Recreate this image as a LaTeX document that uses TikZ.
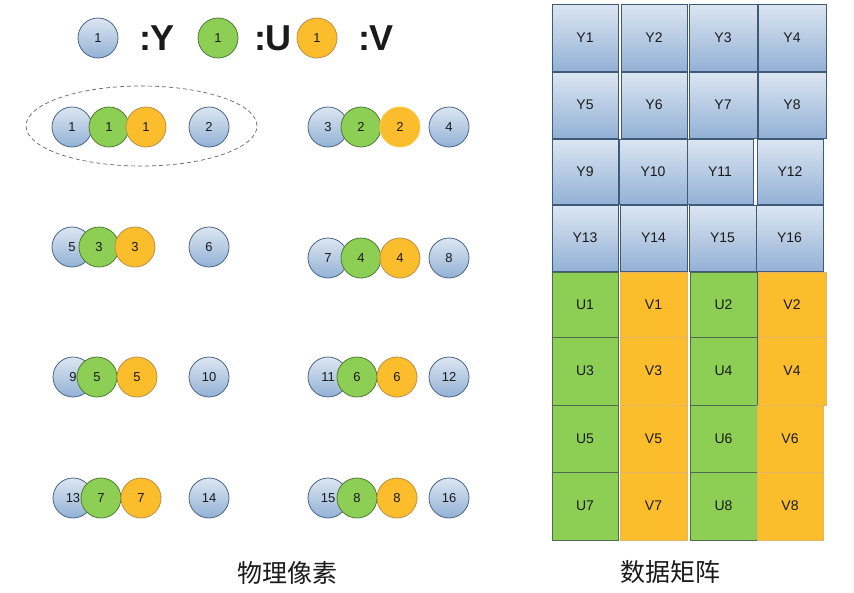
\documentclass[tikz,border=0pt]{standalone}
\usepackage{fontspec}
\setmainfont{Liberation Sans}
\newfontfamily\cjk{Noto Sans CJK SC}
\usetikzlibrary{shapes.geometric}
\definecolor{ytop}{HTML}{DCE6F2}
\definecolor{ybot}{HTML}{93B1D5}
\definecolor{yedge}{HTML}{4A6684}
\definecolor{ufill}{HTML}{8DCF55}
\definecolor{uedge}{HTML}{4F7A35}
\definecolor{vfill}{HTML}{FBBD2B}
\definecolor{vedge}{HTML}{B8904A}
\definecolor{cedge}{HTML}{3E5A78}
\definecolor{ucedge}{HTML}{4E6A50}
\definecolor{vcedge}{HTML}{E2B566}
\definecolor{txt}{HTML}{1A1A1A}
\tikzset{
  circ/.style={circle, minimum size=40pt, inner sep=0pt, line width=0.8pt, font=\fontsize{13}{13}\selectfont, text=txt},
  ycirc/.style={circ, draw=yedge, top color=ytop, bottom color=ybot},
  ucirc/.style={circ, draw=uedge, fill=ufill},
  vcirc/.style={circ, draw=vedge, fill=vfill},
  vsoft/.style={circ, draw=vfill!85!white, fill=vfill},
  cellbase/.style={rectangle, inner sep=0pt, line width=0.8pt, font=\fontsize{14}{14}\selectfont, text=txt},
  ycell/.style={cellbase, draw=cedge, top color=ytop, bottom color=ybot},
  ucell/.style={cellbase, draw=ucedge, fill=ufill},
  vcell/.style={cellbase, draw=vcedge, fill=vfill},
  legend/.style={font=\bfseries\fontsize{36}{36}\selectfont, text=txt, inner sep=0pt},
  caption/.style={font=\cjk\fontsize{25}{25}\selectfont, text=txt, inner sep=0pt},
  group/.style={ellipse, draw=gray!80!black, dash pattern=on 4pt off 3pt, line width=0.7pt, inner sep=0pt}
}
\newcommand\mcell[7]{\node[#6, minimum width={#4pt-#2pt}, minimum height={#5pt-#3pt}] (#1) at ({(#2+#4)/2},{(#3+#5)/2}) {#7};}
\begin{document}
\begin{tikzpicture}[x=1pt,y=-1pt]
\useasboundingbox[fill=white] (0,0) rectangle (854,592);

% legend
\node[ycirc] (ly) at (98,38) {1};
\node[legend] (lyt) at (157,38) {:Y};
\node[ucirc] (lu) at (218,38) {1};
\node[legend] (lut) at (273,38) {:U};
\node[vcirc] (lv) at (317,38) {1};
\node[legend] (lvt) at (376,38) {:V};

% group ellipse
\node[group, minimum width=231pt, minimum height=80pt] (sel) at (141.5,126) {};

% row 1
\node[ycirc] (p1) at (72,127) {1};
\node[ucirc] (pu1) at (109,127) {1};
\node[vcirc] (pv1) at (146,127) {1};
\node[ycirc] (p2) at (209,127) {2};
\node[ycirc] (p3) at (328,127) {3};
\node[ucirc] (pu2) at (361,127) {2};
\node[vsoft] (pv2) at (400,127) {2};
\node[ycirc] (p4) at (449,127) {4};

% row 2
\node[ycirc] (p5) at (72,247) {5};
\node[ucirc] (pu3) at (99,247) {3};
\node[vcirc] (pv3) at (135,247) {3};
\node[ycirc] (p6) at (209,247) {6};
\node[ycirc] (p7) at (328,258) {7};
\node[ucirc] (pu4) at (361,258) {4};
\node[vcirc] (pv4) at (400,258) {4};
\node[ycirc] (p8) at (449,258) {8};

% row 3
\node[ycirc] (p9) at (73,377) {9};
\node[ucirc] (pu5) at (97,377) {5};
\node[vcirc] (pv5) at (137,377) {5};
\node[ycirc] (p10) at (209,377) {10};
\node[ycirc] (p11) at (328,377) {11};
\node[ucirc] (pu6) at (357,377) {6};
\node[vcirc] (pv6) at (397,377) {6};
\node[ycirc] (p12) at (449,377) {12};

% row 4
\node[ycirc] (p13) at (73,498) {13};
\node[ucirc] (pu7) at (101,498) {7};
\node[vcirc] (pv7) at (141,498) {7};
\node[ycirc] (p14) at (209,498) {14};
\node[ycirc] (p15) at (328,498) {15};
\node[ucirc] (pu8) at (357,498) {8};
\node[vcirc] (pv8) at (397,498) {8};
\node[ycirc] (p16) at (449,498) {16};

% data matrix: Y plane
\mcell{my1}{552}{4}{618}{71}{ycell}{Y1}
\mcell{my2}{621}{4}{687}{71}{ycell}{Y2}
\mcell{my3}{689}{4}{757}{71}{ycell}{Y3}
\mcell{my4}{758}{4}{826}{71}{ycell}{Y4}
\mcell{my5}{552}{72}{618}{138}{ycell}{Y5}
\mcell{my6}{621}{72}{687}{138}{ycell}{Y6}
\mcell{my7}{689}{72}{757}{138}{ycell}{Y7}
\mcell{my8}{758}{72}{826}{138}{ycell}{Y8}
\mcell{my9}{552}{139}{618}{204}{ycell}{Y9}
\mcell{my10}{619}{139}{687}{204}{ycell}{Y10}
\mcell{my11}{687}{139}{753}{204}{ycell}{Y11}
\mcell{my12}{757}{139}{823}{204}{ycell}{Y12}
\mcell{my13}{552}{205}{618}{271}{ycell}{Y13}
\mcell{my14}{620}{205}{687}{271}{ycell}{Y14}
\mcell{my15}{689}{205}{756}{271}{ycell}{Y15}
\mcell{my16}{756}{205}{823}{271}{ycell}{Y16}

% data matrix: U/V plane
\mcell{mu1}{552}{272}{618}{337}{ucell}{U1}
\mcell{mv1}{620}{272}{687}{337}{vcell}{V1}
\mcell{mu2}{690}{272}{757}{337}{ucell}{U2}
\mcell{mv2}{758}{272}{826}{337}{vcell}{V2}
\mcell{mu3}{552}{337}{618}{405}{ucell}{U3}
\mcell{mv3}{620}{337}{687}{405}{vcell}{V3}
\mcell{mu4}{690}{337}{757}{405}{ucell}{U4}
\mcell{mv4}{758}{337}{826}{405}{vcell}{V4}
\mcell{mu5}{552}{405}{618}{472}{ucell}{U5}
\mcell{mv5}{620}{405}{687}{472}{vcell}{V5}
\mcell{mu6}{690}{405}{757}{472}{ucell}{U6}
\mcell{mv6}{757}{405}{823}{472}{vcell}{V6}
\mcell{mu7}{552}{472}{618}{540}{ucell}{U7}
\mcell{mv7}{620}{472}{687}{540}{vcell}{V7}
\mcell{mu8}{690}{472}{757}{540}{ucell}{U8}
\mcell{mv8}{757}{472}{823}{540}{vcell}{V8}

% captions
\node[caption] (cap1) at (287,573) {物理像素};
\node[caption] (cap2) at (670,572) {数据矩阵};
\end{tikzpicture}
\end{document}
